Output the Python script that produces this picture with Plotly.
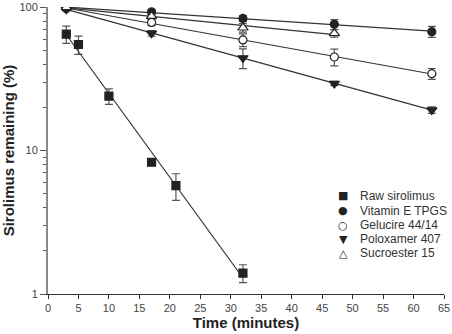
import numpy as np
import plotly.graph_objects as go

# ---- data ----
t_raw = [3, 5, 10, 17, 21, 32]
raw = [65, 55, 24, 8.3, 5.7, 1.4]
raw_err = [9, 8, 3, 0.4, 1.2, 0.2]

t_std = [3, 17, 32, 47, 63]
tpgs = [99, 92.8, 83.6, 76, 67.6]
tpgs_err = [3, 4, 4, 6, 6]
gelucire = [98, 78.4, 59.2, 45, 34.4]
gelucire_err = [3, 4, 6, 6, 3]
poloxamer = [97, 65.8, 44.3, 29.4, 19.2]
poloxamer_err = [3, 3, 7, 1, 1]
t_suc = [3, 17, 32, 47]
sucroester = [100, 86.7, 72, 65.8]
sucroester_err = [2, 3, 5, 4]

names = ["Raw sirolimus", "Vitamin E TPGS", "Gelucire 44/14", "Poloxamer 407", "Sucroester 15"]
legend_symbols = ["■", "●", "○", "▼", "△"]

series = [
    (t_raw, raw, raw_err, "square", True),
    (t_std, tpgs, tpgs_err, "circle", True),
    (t_std, gelucire, gelucire_err, "circle", False),
    (t_std, poloxamer, poloxamer_err, "triangle-down", True),
    (t_suc, sucroester, sucroester_err, "triangle-up", False),
]
sizes = [8, 8, 8, 9, 9]

T, B = 7, 40
H = 334 - T - B

fig = go.Figure()
for (x, y, e, sym, filled), name, sz in zip(series, names, sizes):
    x = np.array(x, float)
    y = np.array(y, float)
    # log-linear fit line
    k, b = np.polyfit(x, np.log10(y), 1)
    xf = np.linspace(x.min(), x.max(), 50)
    fig.add_trace(go.Scatter(x=xf, y=10 ** (k * xf + b), mode="lines",
                             line=dict(color="#333333", width=1.2),
                             showlegend=False, hoverinfo="skip"))
    fig.add_trace(go.Scatter(
        x=x, y=y, mode="markers", name=name, showlegend=False,
        marker=dict(symbol=sym, size=sz, color="#222222" if filled else "white",
                    line=dict(color="#222222", width=1.2)),
        error_y=dict(type="data", array=e, color="#555555", thickness=1.2, width=4),
    ))

# legend drawn as text rows
row_px = [196, 210.5, 225, 239, 253]
for sym, name, py in zip(legend_symbols, names, row_px):
    yy = (334 - B - py) / H
    fig.add_annotation(x=0.745, y=yy, xref="paper", yref="paper", xanchor="center", yanchor="middle",
                       text=sym, showarrow=False,
                       font=dict(family="DejaVu Sans", size=11, color="#222222"))
    fig.add_annotation(x=0.783, y=yy, xref="paper", yref="paper", xanchor="left", yanchor="middle",
                       text=name, showarrow=False,
                       font=dict(family="Liberation Sans, Arial", size=12, color="#333333"))

fig.update_layout(
    width=452, height=334,
    margin=dict(l=48, r=8, t=T, b=B, autoexpand=False),
    plot_bgcolor="white", paper_bgcolor="white",
    font=dict(family="Liberation Sans, Arial", size=11, color="#444444"),
    xaxis=dict(range=[0, 65], tickmode="array", tickvals=list(range(0, 66, 5)),
               automargin=False,
               showline=True, linecolor="#333333", linewidth=1.2, ticks="outside",
               ticklen=4, tickcolor="#333333", showgrid=False, zeroline=False,
               title=dict(text="<b>Time (minutes)</b>", font=dict(size=15, color="#222222"), standoff=4)),
    yaxis=dict(type="log", range=[0, 2.002], tickvals=[1, 10, 100], ticktext=["1", "10", "100"],
               ticklabeloverflow="allow", automargin=False,
               showline=True, linecolor="#888888", linewidth=2, ticks="outside",
               ticklen=6, tickcolor="#555555", showgrid=False, zeroline=False,
               minor=dict(ticks="outside", ticklen=3, tickcolor="#555555",
                          tickvals=[2, 3, 4, 5, 6, 7, 8, 9, 20, 30, 40, 50, 60, 70, 80, 90]),
               title=dict(text="<b>Sirolimus remaining (%)</b>", font=dict(size=15, color="#222222"), standoff=4)),
)
fig.write_html("out.html")
